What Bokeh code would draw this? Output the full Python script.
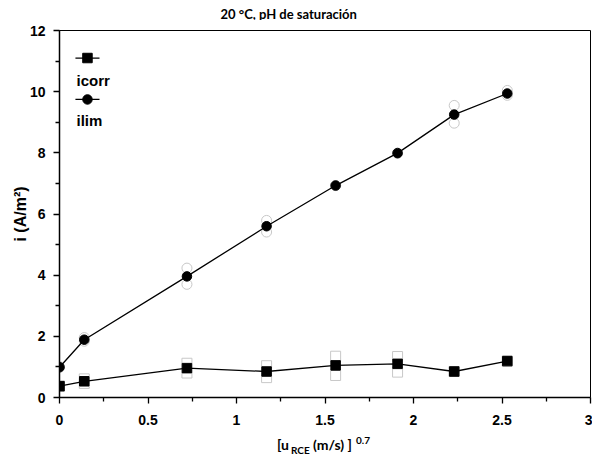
from bokeh.plotting import figure
from bokeh.models import FixedTicker, Label, Range1d
from bokeh.layouts import column
from bokeh.embed import file_html
from bokeh.resources import INLINE

# ---- data ----
u_rce = [0.0, 0.14, 0.72, 1.17, 1.56, 1.91, 2.23, 2.53]
icorr = [0.37, 0.53, 0.96, 0.85, 1.05, 1.10, 0.85, 1.19]
icorr_hi = [0.37, 0.61, 1.12, 1.04, 1.35, 1.34, 0.85, 1.19]
icorr_lo = [0.37, 0.46, 0.80, 0.65, 0.72, 0.83, 0.85, 1.19]
ilim = [0.99, 1.89, 3.96, 5.60, 6.93, 7.99, 9.25, 9.94]
ilim_hi = [1.01, 1.96, 4.23, 5.79, 6.93, 7.99, 9.55, 10.04]
ilim_lo = [0.98, 1.84, 3.70, 5.41, 6.93, 7.99, 8.97, 9.88]
x_ticks = [0, 0.5, 1, 1.5, 2, 2.5, 3]
x_minor = [0.25, 0.75, 1.25, 1.75, 2.25, 2.75]
y_ticks = [0, 2, 4, 6, 8, 10, 12]
y_minor = [1, 3, 5, 7, 9, 11]
series_names = ["icorr", "ilim"]
title_text = "20 \u00b0C, pH de saturaci\u00f3n"
y_label = "i (A/m\u00b2)"
x_label_parts = ["[u", "RCE", "(m/s) ]", "0.7"]

ARIAL = "Liberation Sans"
CALIBRI = "Lato"
GRAY = "#c8c8c8"


def strip(height):
    f = figure(width=592, height=height, output_backend="svg", toolbar_location=None,
               x_range=Range1d(0, 3), y_range=Range1d(0, 1), x_axis_type=None, y_axis_type=None,
               min_border_left=59, min_border_right=2, min_border_top=0, min_border_bottom=0)
    f.grid.visible = False
    f.outline_line_color = None
    f.background_fill_color = "white"
    f.border_fill_color = "white"
    return f


# ---- title strip ----
t = strip(20)
t.add_layout(Label(x=0, y=0.35, x_offset=161, text=title_text, text_font=CALIBRI,
                   text_font_style="bold", text_font_size="13px", text_color="black",
                   text_baseline="middle", text_align="left"))

# ---- main plot ----
p = figure(width=592, height=412, output_backend="svg", toolbar_location=None,
           x_range=t.x_range, y_range=Range1d(0, 12),
           min_border_left=59, min_border_right=2, min_border_top=10,
           min_border_bottom=35)
p.title = None
p.grid.visible = False
p.outline_line_color = "black"
p.outline_line_width = 1
p.background_fill_color = "white"
p.border_fill_color = "white"

for ax in (p.xaxis[0], p.yaxis[0]):
    ax.axis_line_width = 1.5
    ax.axis_line_color = "black"
    ax.major_tick_line_width = 1.3
    ax.minor_tick_line_width = 1.3
    ax.major_tick_out = 6
    ax.major_tick_in = 0
    ax.minor_tick_out = 4
    ax.minor_tick_in = 0
    ax.major_label_text_font = ARIAL
    ax.major_label_text_font_style = "bold"
    ax.major_label_text_font_size = "14px"
    ax.major_label_text_color = "black"

p.xaxis.ticker = FixedTicker(ticks=x_ticks, minor_ticks=x_minor)
p.yaxis.ticker = FixedTicker(ticks=y_ticks, minor_ticks=y_minor)
p.xaxis.major_label_standoff = 11
p.yaxis.major_label_standoff = 8
p.xaxis.major_label_overrides = {0: "0", 1: "1", 2: "2", 3: "3"}

p.yaxis.axis_label = y_label
p.yaxis.axis_label_text_font = ARIAL
p.yaxis.axis_label_text_font_style = "bold"
p.yaxis.axis_label_text_font_size = "16px"
p.yaxis.axis_label_text_color = "black"
p.yaxis.axis_label_standoff = -2

# replicate (open gray) markers
for yy, mk in ((icorr_hi, "square"), (icorr_lo, "square"), (ilim_hi, "circle"), (ilim_lo, "circle")):
    p.scatter(u_rce, yy, marker=mk, size=10, fill_color=None, line_color=GRAY, line_width=1)

# mean series
p.line(u_rce, icorr, line_color="black", line_width=1.3)
p.line(u_rce, ilim, line_color="black", line_width=1.3)
p.scatter(u_rce, icorr, marker="square", size=9.5, fill_color="black", line_color="black")
p.scatter(u_rce, ilim, marker="circle", size=9.5, fill_color="black", line_color="black")

# legend (SigmaPlot style: symbol above text)
leg_x0, leg_x1, leg_xm, leg_tx = 0.09, 0.226, 0.158, 0.096
leg_sym_y = [11.10, 9.745]
leg_txt_y = [10.37, 9.06]
for mk, sy, ty, name in zip(["square", "circle"], leg_sym_y, leg_txt_y, series_names):
    p.line([leg_x0, leg_x1], [sy, sy], line_color="black", line_width=1.3)
    p.scatter([leg_xm], [sy], marker=mk, size=9.5, fill_color="black", line_color="black")
    p.add_layout(Label(x=leg_tx, y=ty, text=name, text_font=ARIAL, text_font_style="bold",
                       text_font_size="15px", text_color="black",
                       text_baseline="middle", text_align="left"))

# ---- x-axis title strip (with sub/superscripts) ----
s = strip(28)
s.x_range = t.x_range
xl_y = 0.57
offsets = [(-48, 0, "14px"), (-34, -5, "10px"), (-12, 0, "14px"), (31, 4, "10px")]
for txt, (dx, dy, fs) in zip(x_label_parts, offsets):
    s.add_layout(Label(x=1.5, y=xl_y, x_offset=dx, y_offset=dy, text=txt, text_font=CALIBRI,
                       text_font_style="bold", text_font_size=fs, text_color="black",
                       text_baseline="middle", text_align="left"))

layout = column(t, p, s, spacing=0)
open("out.html", "w").write(file_html(layout, INLINE))
